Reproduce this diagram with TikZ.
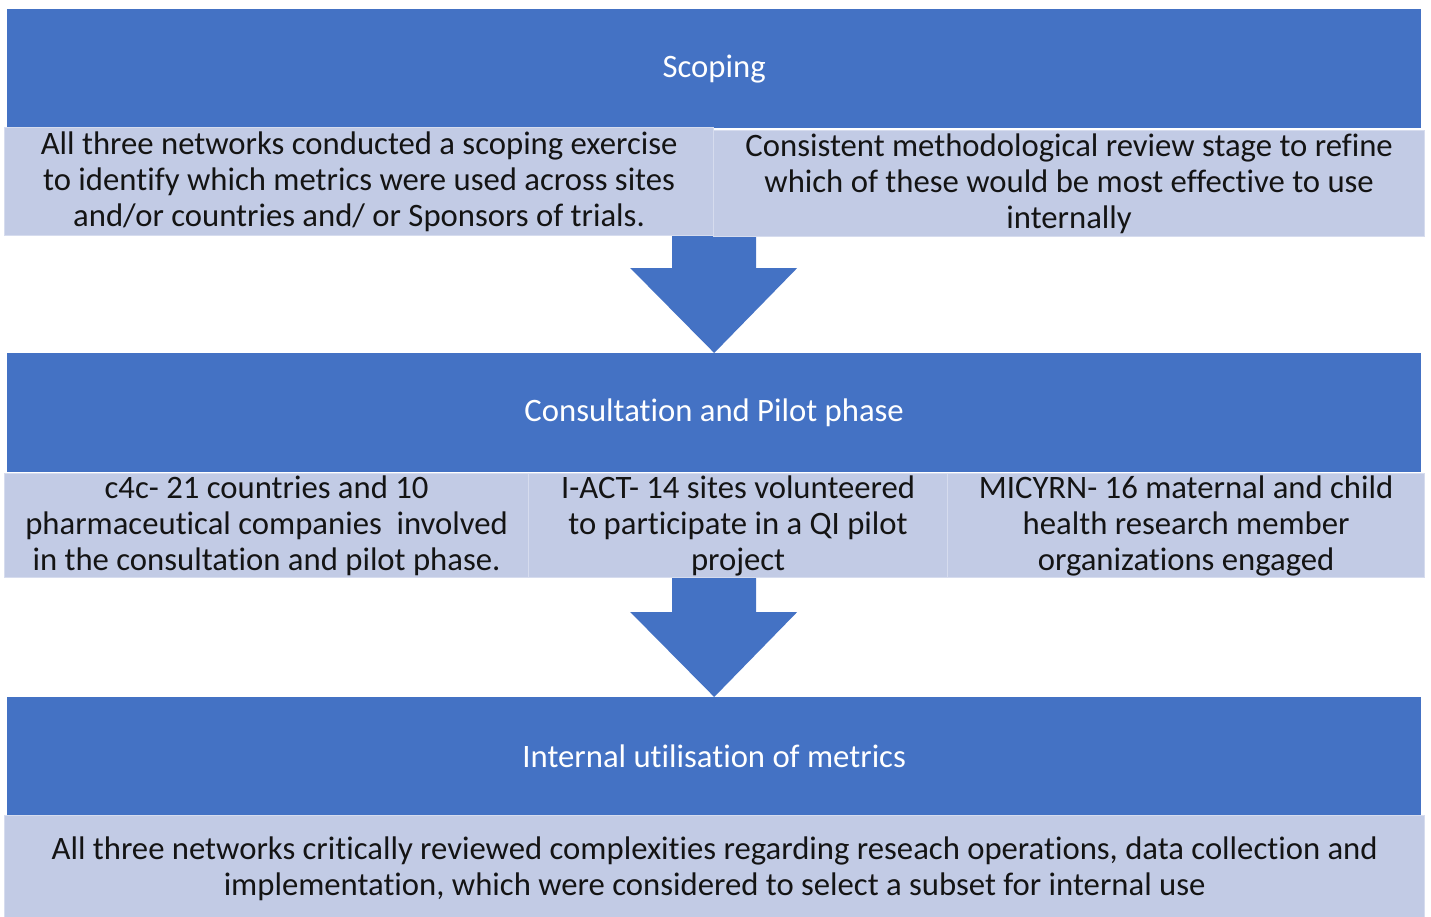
\documentclass[tikz,border=0pt]{standalone}
\usepackage{fontspec}
\setmainfont{Carlito}[Ligatures=NoCommon]
\usetikzlibrary{calc}
\definecolor{hdr}{RGB}{68,114,196}
\definecolor{lite}{RGB}{194,203,229}
\definecolor{liteedge}{RGB}{214,220,238}
\definecolor{txt}{RGB}{20,20,20}
\begin{document}
\begin{tikzpicture}[x=1pt,y=-1pt,
  hdrbox/.style={rectangle, fill=hdr, draw=none, anchor=north west, inner sep=0pt,
    text=white, font=\fontsize{32.7}{36}\selectfont, minimum width=1414pt, minimum height=119pt},
  litebox/.style={rectangle, fill=lite, draw=liteedge, line width=1.2pt, anchor=north west, inner sep=0pt,
    text=txt, align=center, font=\fontsize{32.7}{36}\selectfont},
  blockarrow/.style={fill=hdr, draw=none}]
\useasboundingbox (0,0) rectangle (1431,917);
% headers
\node[hdrbox] (h1) at (7,9) {Scoping};
\node[hdrbox] (h2) at (7,353) {Consultation and Pilot phase};
\node[hdrbox] (h3) at (7,697) {Internal utilisation of metrics};
% arrows
\fill[blockarrow] ($(h2.north)+(-42,-120)$) -- ($(h2.north)+(42,-120)$) -- ($(h2.north)+(42,-85)$)
  -- ($(h2.north)+(83,-85)$) -- (h2.north) -- ($(h2.north)+(-84,-85)$) -- ($(h2.north)+(-42,-85)$) -- cycle;
\fill[blockarrow] ($(h3.north)+(-42,-120)$) -- ($(h3.north)+(42,-120)$) -- ($(h3.north)+(42,-85)$)
  -- ($(h3.north)+(83,-85)$) -- (h3.north) -- ($(h3.north)+(-84,-85)$) -- ($(h3.north)+(-42,-85)$) -- cycle;
% row 1
\node[litebox, minimum width=709pt, minimum height=108pt] (a1) at (4,127)
  {All three networks conducted a scoping exercise\\to identify which metrics were used across sites\\and/or countries and/ or Sponsors of trials.};
\node[litebox, minimum width=711pt, minimum height=106pt] (a2) at (713,130)
  {Consistent methodological review stage to refine\\which of these would be most effective to use\\internally};
% row 2
\node[litebox, minimum width=524pt, minimum height=104pt] (b1) at (4,473)
  {c4c- 21 countries and 10\\pharmaceutical companies\ \ involved\\in the consultation and pilot phase.};
\node[litebox, minimum width=419pt, minimum height=104pt] (b2) at (528,473)
  {I-ACT- 14 sites volunteered\\to participate in a QI pilot\\project};
\node[litebox, minimum width=477pt, minimum height=104pt] (b3) at (947,473)
  {MICYRN- 16 maternal and child\\health research member\\organizations engaged};
% row 3
\node[litebox, minimum width=1420pt, minimum height=106pt] (c1) at (4,815)
  {All three networks critically reviewed complexities regarding reseach operations, data collection and\\implementation, which were considered to select a subset for internal use};
\end{tikzpicture}
\end{document}
